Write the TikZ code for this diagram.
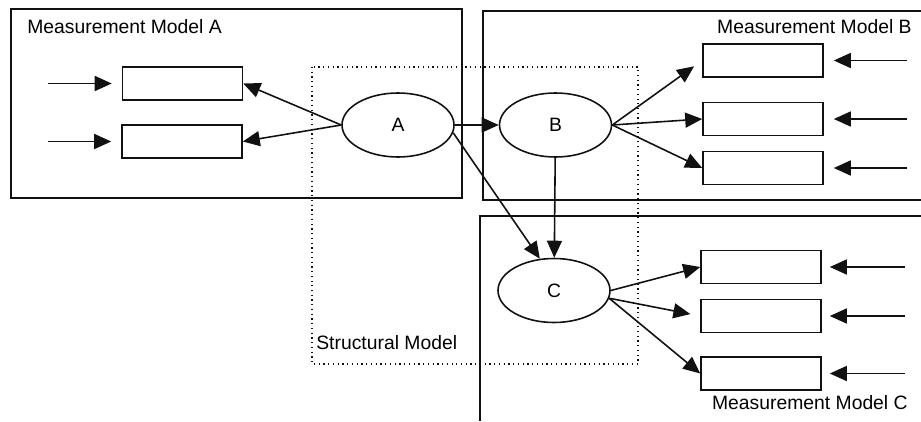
\documentclass[tikz,border=0pt]{standalone}
\usepackage{fontspec}
\setmainfont{Liberation Sans}
\usepackage{xcolor}
\usetikzlibrary{arrows.meta,calc,positioning,shapes.geometric}
\definecolor{Ink}{HTML}{111111}

\begin{document}
\begin{tikzpicture}[
  ind/.style={draw=Ink,line width=0.9pt,minimum width=2.4cm,minimum height=0.66cm,inner sep=0pt},
  lat/.style={draw=Ink,line width=0.9pt,ellipse,minimum width=2.24cm,minimum height=1.28cm,inner sep=0pt,font=\fontsize{11}{13}\selectfont},
  grp/.style={draw=Ink,line width=1pt},
  struct/.style={draw=Ink,line width=0.7pt,dotted},
  lbl/.style={inner sep=0pt,font=\fontsize{11}{13}\selectfont},
  arr/.style={-{Triangle[length=3.4mm,width=3mm]},line width=0.9pt,color=Ink}
]
\useasboundingbox (0,0) rectangle (18.42,8.42);
% group frames
\draw[grp] (0.22,8.24) rectangle (9.24,4.46);
\draw[grp] (18.42,8.20) -- (9.66,8.20) -- (9.66,4.42) -- (18.42,4.42);
\draw[grp] (18.42,4.10) -- (9.60,4.10) -- (9.60,0);
\draw[struct] (6.24,7.08) rectangle (12.76,1.14);
\node[lbl,anchor=west] (labA) at (0.54,7.88) {Measurement Model A};
\node[lbl,anchor=east] (labB) at (18.24,7.88) {Measurement Model B};
\node[lbl,anchor=east] (labC) at (18.16,0.36) {Measurement Model C};
\node[lbl,anchor=west] (labS) at (6.32,1.56) {Structural Model};
% latent variables
\node[lat] (latA) at (7.96,5.92) {A};
\node[lat] (latB) at (11.11,5.92) {B};
\node[lat] (latC) at (11.08,2.61) {C};
% indicators
\node[ind] (indA1) at (3.65,6.75) {};
\node[ind] (indA2) at (3.64,5.59) {};
\node[ind] (indB1) at (15.26,7.21) {};
\node[ind] (indB2) at (15.26,6.04) {};
\node[ind] (indB3) at (15.26,5.06) {};
\node[ind] (indC1) at (15.22,3.08) {};
\node[ind] (indC2) at (15.22,2.10) {};
\node[ind] (indC3) at (15.22,0.95) {};
% error terms
\coordinate (errA1) at (0.96,6.75);
\coordinate (errA2) at (0.96,5.59);
\coordinate (errB1) at (18.14,7.21);
\coordinate (errB2) at (18.14,6.04);
\coordinate (errB3) at (18.14,5.06);
\coordinate (errC1) at (18.10,3.08);
\coordinate (errC2) at (18.10,2.10);
\coordinate (errC3) at (18.10,0.95);
\draw[arr,shorten >=2mm] (errA1) -- (indA1);
\draw[arr,shorten >=2mm] (errA2) -- (indA2);
\draw[arr,shorten >=2mm] (errB1) -- (indB1);
\draw[arr,shorten >=2mm] (errB2) -- (indB2);
\draw[arr,shorten >=2mm] (errB3) -- (indB3);
\draw[arr,shorten >=1.6mm] (errC1) -- (indC1);
\draw[arr,shorten >=1.6mm] (errC2) -- (indC2);
\draw[arr,shorten >=1.6mm] (errC3) -- (indC3);
% structural paths
\draw[arr] (latA) -- (latB);
\draw[arr] (latA.-8) -- (latC.114);
\draw[arr] (latB) -- (latC);
% loadings
\draw[arr] (latA.west) -- (indA1.east);
\draw[arr] (latA.west) -- (indA2.east);
\draw[arr,shorten >=2mm] (latB.east) -- (indB1.west);
\draw[arr] (latB.east) -- (indB2.west);
\draw[arr] (latB.east) -- (indB3.west);
\draw[arr] (latC.east) -- (indC1.west);
\draw[arr,shorten >=2mm] (latC.-8) -- (indC2.west);
\draw[arr] (latC.-8) -- (indC3.west);
\end{tikzpicture}
\end{document}
